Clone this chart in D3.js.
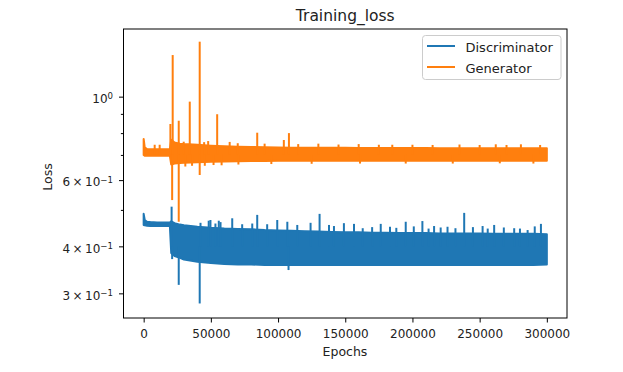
<!DOCTYPE html>
<html>
<head>
<meta charset="utf-8">
<script src="https://cdn.jsdelivr.net/npm/d3@7"></script>
<style>
    body { margin: 0; background: #fff; }
    svg { font-family: "DejaVu Sans", sans-serif; }
</style>
</head>
<body>
<div id="chart"></div>
<script>
"use strict";

// envelope of the noisy loss curves (epoch -> loss)
const epochs = [0, 800, 2500, 5000, 10000, 15000, 19500, 20500, 23000, 27000, 30000,
    40000, 50000, 60000, 70000, 80000, 90000, 100000, 110000, 120000, 130000, 140000,
    150000, 160000, 170000, 180000, 190000, 200000, 210000, 220000, 230000, 240000,
    250000, 260000, 270000, 280000, 290000, 300000];

const discHigh = [0.488, 0.470, 0.465, 0.464, 0.463, 0.463, 0.463, 0.466, 0.461, 0.457, 0.455,
    0.451, 0.448, 0.446, 0.445, 0.444, 0.442, 0.441, 0.440, 0.439, 0.438, 0.437,
    0.436, 0.436, 0.435, 0.435, 0.434, 0.434, 0.434, 0.433, 0.433, 0.433,
    0.433, 0.432, 0.432, 0.432, 0.432, 0.431];
const discLow = [0.456, 0.455, 0.454, 0.453, 0.453, 0.453, 0.453, 0.384, 0.377, 0.373, 0.369,
    0.364, 0.361, 0.359, 0.358, 0.358, 0.357, 0.357, 0.357, 0.357, 0.357, 0.357,
    0.357, 0.357, 0.357, 0.357, 0.357, 0.357, 0.357, 0.357, 0.357, 0.357,
    0.357, 0.357, 0.357, 0.357, 0.357, 0.358];

const genHigh = [0.772, 0.733, 0.726, 0.725, 0.725, 0.725, 0.725, 0.768, 0.755, 0.750, 0.748,
    0.745, 0.741, 0.738, 0.736, 0.735, 0.734, 0.733, 0.732, 0.732, 0.731, 0.731,
    0.731, 0.730, 0.730, 0.730, 0.730, 0.730, 0.730, 0.729, 0.729, 0.729,
    0.729, 0.729, 0.729, 0.729, 0.729, 0.729];
const genLow = [0.700, 0.696, 0.696, 0.696, 0.696, 0.696, 0.696, 0.660, 0.664, 0.666, 0.667,
    0.669, 0.671, 0.672, 0.673, 0.674, 0.674, 0.675, 0.675, 0.675, 0.675, 0.675,
    0.675, 0.675, 0.675, 0.675, 0.675, 0.675, 0.675, 0.675, 0.675, 0.675,
    0.675, 0.675, 0.675, 0.675, 0.675, 0.675];

// single-step spikes sticking out of the bands
const discSpikeEpochs = [20800, 21200, 26100, 41700, 42300, 48400, 49700, 53400, 55900, 57200,
    65900, 73300, 80800, 84500, 91900, 99400, 106900, 107800, 114300, 124200,
    130900, 137900, 141600, 149000, 156500, 163000, 170000, 176400, 183300, 188000,
    195000, 201000, 207400, 212000, 216100, 221000, 226100, 232000, 238500, 245000,
    252200, 256000, 260800, 268000, 275700, 280000, 285700, 291000, 295600];
const discSpikeValues = [0.510, 0.370, 0.316, 0.282, 0.462, 0.468, 0.470, 0.460, 0.468, 0.464,
    0.475, 0.458, 0.460, 0.485, 0.458, 0.470, 0.465, 0.346, 0.456, 0.462,
    0.488, 0.456, 0.453, 0.461, 0.459, 0.447, 0.450, 0.459, 0.451, 0.448,
    0.465, 0.452, 0.467, 0.446, 0.453, 0.449, 0.451, 0.447, 0.491, 0.450,
    0.453, 0.446, 0.456, 0.449, 0.447, 0.446, 0.442, 0.452, 0.459];

const genSpikeEpochs = [8200, 11900, 19900, 21200, 21600, 26100, 26100, 29800, 31000, 34300,
    36000, 41700, 41700, 45000, 45500, 48000, 52000, 54700, 58000, 64000,
    70000, 70500, 84500, 90000, 95000, 104300, 108100, 115000, 125000, 130000,
    145000, 160000, 161000, 175000, 185000, 195000, 200000, 215000, 230000, 235000,
    250000, 262000, 265000, 270000, 280700, 290000, 295000];
const genSpikeValues = [0.745, 0.745, 0.846, 0.531, 1.290, 0.863, 0.465, 0.759, 0.652, 0.970,
    0.655, 1.400, 0.619, 0.757, 0.655, 0.762, 0.658, 0.898, 0.657, 0.758,
    0.752, 0.660, 0.802, 0.750, 0.662, 0.767, 0.800, 0.748, 0.663, 0.750,
    0.746, 0.748, 0.664, 0.745, 0.745, 0.664, 0.745, 0.744, 0.664, 0.746,
    0.744, 0.747, 0.665, 0.744, 0.747, 0.664, 0.744];

const xTicks = [0, 50000, 100000, 150000, 200000, 250000, 300000];
const yMajorTicks = [0.3, 0.4, 0.6, 1.0];
const yMinorTicks = [0.5, 0.7, 0.8, 0.9];
const yMantissa = ["3", "4", "6", ""];
const yExponent = ["\u22121", "\u22121", "\u22121", "0"];

const colors = { disc: "#1f77b4", gen: "#ff7f0e" };

const msm = {
    width: 623,
    height: 372,
    left: 123.5,
    right: 567,
    top: 29,
    bottom: 318
};

let svgContainer = d3.select("#chart")
    .append("svg")
    .attr("width", msm.width)
    .attr("height", msm.height);

let xScale = d3.scaleLinear()
    .domain([-15000, 315000])
    .range([msm.left, msm.right]);

let yScale = d3.scaleLog()
    .domain([0.258, 1.513])
    .range([msm.bottom, msm.top]);

// draw one noisy series as a filled band plus its spikes
function drawSeries(high, low, spikeEpochs, spikeValues, base, color) {
    let idx = d3.range(epochs.length);
    let area = d3.area()
        .x(i => xScale(epochs[i]))
        .y0(i => yScale(low[i]))
        .y1(i => yScale(high[i]));

    svgContainer.append("path")
        .datum(idx)
        .attr("d", area)
        .attr("fill", color)
        .attr("stroke", color)
        .attr("stroke-width", 2)
        .attr("stroke-linejoin", "round");

    svgContainer.append("g")
        .selectAll("line")
        .data(d3.range(spikeEpochs.length))
        .join("line")
        .attr("x1", i => xScale(spikeEpochs[i]))
        .attr("x2", i => xScale(spikeEpochs[i]))
        .attr("y1", yScale(base))
        .attr("y2", i => yScale(spikeValues[i]))
        .attr("stroke", color)
        .attr("stroke-width", 2);
}

drawSeries(discHigh, discLow, discSpikeEpochs, discSpikeValues, 0.40, colors.disc);
drawSeries(genHigh, genLow, genSpikeEpochs, genSpikeValues, 0.70, colors.gen);

// x axis
let xAxis = d3.axisBottom(xScale)
    .tickValues(xTicks)
    .tickFormat(d3.format("d"))
    .tickSize(4.5)
    .tickPadding(6.5)
    .tickSizeOuter(0);
let gx = svgContainer.append("g")
    .attr("transform", "translate(0," + msm.bottom + ")")
    .call(xAxis);
gx.select(".domain").remove();
gx.attr("font-family", null).attr("font-size", 12);
gx.selectAll("text").attr("fill", "#222");

// y axis: minor then major ticks, labels done by hand for the mathtext look
let gyMinor = svgContainer.append("g")
    .attr("transform", "translate(" + msm.left + ",0)")
    .call(d3.axisLeft(yScale).tickValues(yMinorTicks).tickFormat("").tickSize(2.6).tickSizeOuter(0));
gyMinor.select(".domain").remove();

let gyMajor = svgContainer.append("g")
    .attr("transform", "translate(" + msm.left + ",0)")
    .call(d3.axisLeft(yScale).tickValues(yMajorTicks).tickFormat("").tickSize(4.5).tickSizeOuter(0));
gyMajor.select(".domain").remove();

yMajorTicks.forEach((v, i) => {
    let t = svgContainer.append("text")
        .attr("x", 113)
        .attr("y", yScale(v) + 6.3)
        .attr("text-anchor", "end")
        .attr("font-size", 12)
        .attr("fill", "#222");
    let main = yMantissa[i] ? yMantissa[i] + "\u2009\u00d7\u200910" : "10";
    t.append("tspan").text(main);
    t.append("tspan")
        .attr("dy", -3.6)
        .attr("font-size", 8.6)
        .text(yExponent[i]);
});

// frame
svgContainer.append("rect")
    .attr("x", msm.left)
    .attr("y", msm.top)
    .attr("width", msm.right - msm.left)
    .attr("height", msm.bottom - msm.top)
    .attr("fill", "none")
    .attr("stroke", "#000")
    .attr("stroke-width", 1);

// title and axis labels
svgContainer.append("text")
    .attr("x", (msm.left + msm.right) / 2)
    .attr("y", 21)
    .attr("text-anchor", "middle")
    .attr("font-size", 15.5)
    .attr("fill", "#222")
    .text("Training_loss");

svgContainer.append("text")
    .attr("x", 345)
    .attr("y", 356)
    .attr("text-anchor", "middle")
    .attr("font-size", 12.5)
    .attr("fill", "#222")
    .text("Epochs");

svgContainer.append("text")
    .attr("transform", "translate(51.5,177) rotate(-90)")
    .attr("text-anchor", "middle")
    .attr("font-size", 12.5)
    .attr("fill", "#222")
    .text("Loss");

// legend
const legendNames = ["Discriminator", "Generator"];
const legendColors = [colors.disc, colors.gen];

let legend = svgContainer.append("g");
legend.append("rect")
    .attr("x", 422.5)
    .attr("y", 35.5)
    .attr("width", 138.5)
    .attr("height", 44)
    .attr("rx", 3)
    .attr("fill", "#fff")
    .attr("fill-opacity", 0.8)
    .attr("stroke", "#ccc")
    .attr("stroke-width", 1);

let items = legend.selectAll(".legend")
    .data(legendNames)
    .enter().append("g")
    .attr("class", "legend")
    .attr("transform", (d, i) => "translate(0," + i * 21 + ")");

items.append("line")
    .attr("x1", 427)
    .attr("x2", 455)
    .attr("y1", 46)
    .attr("y2", 46)
    .attr("stroke", (d, i) => legendColors[i])
    .attr("stroke-width", 2);

items.append("text")
    .attr("x", 465.5)
    .attr("y", 51.5)
    .attr("font-size", 13)
    .attr("fill", "#222")
    .text(d => d);
</script>
</body>
</html>
